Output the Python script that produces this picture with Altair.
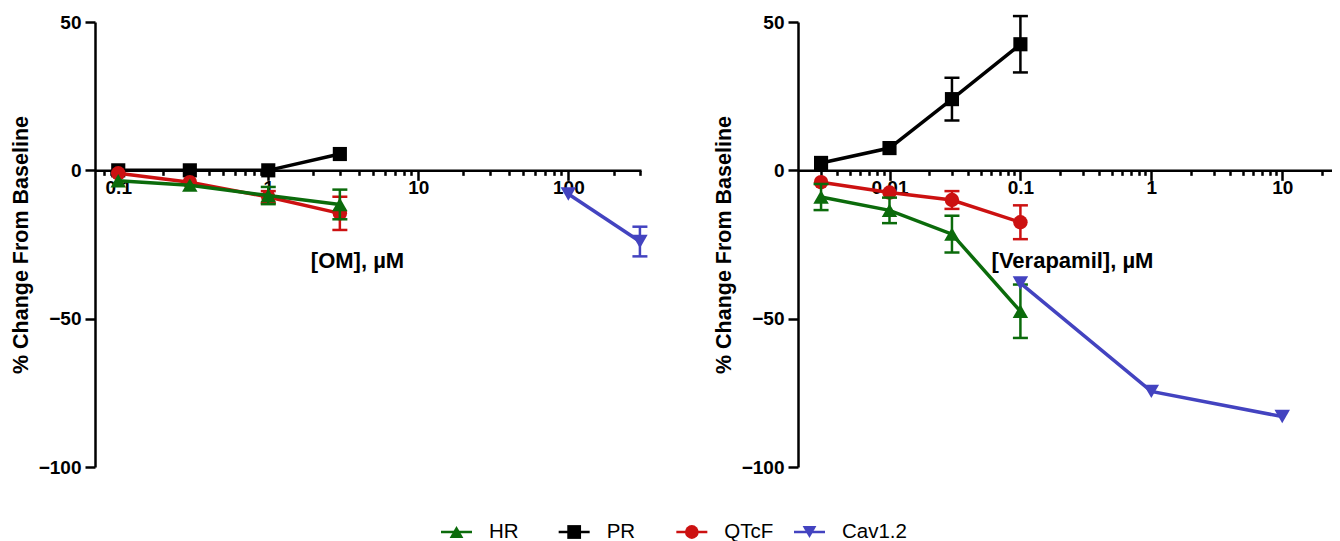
import altair as alt
import pandas as pd

FONT = "Liberation Sans"

series_names = ["HR", "PR", "QTcF", "Cav1.2"]
series_colors = ["#0b6b0b", "#000000", "#cc1111", "#4343c0"]
series_shapes = ["triangle-up", "square", "circle", "triangle-down"]
series_sizes = [240, 200, 210, 240]
draw_order = ["PR", "QTcF", "HR", "Cav1.2"]

# ---- OM panel ----
om_conc = [0.1, 0.3, 1, 3]
om_hr = [-3.5, -5, -8.5, -11.5]
om_hr_err = [0, 0, 2.9, 5]
om_pr = [0, 0, 0, 5.5]
om_pr_err = [0, 0, 0, 0]
om_qtcf = [-1, -4, -9, -14.5]
om_qtcf_err = [0, 0, 2, 5.6]
om_cav_conc = [100, 300]
om_cav = [-8, -24]
om_cav_err = [0, 5]

# ---- Verapamil panel ----
ver_conc = [0.003, 0.01, 0.03, 0.1]
ver_hr = [-9, -13.5, -21.5, -47.5]
ver_hr_err = [4.4, 4.3, 6.2, 9]
ver_pr = [2.5, 7.5, 24, 42.5]
ver_pr_err = [0, 0, 7.2, 9.5]
ver_qtcf = [-4, -7.5, -10, -17.5]
ver_qtcf_err = [0, 0, 3, 5.7]
ver_cav_conc = [0.1, 1, 10]
ver_cav = [-38, -74.5, -83]
ver_cav_err = [0, 0, 0]

y_ticks = [-100, -50, 0, 50]
om_major = [0.1, 1, 10, 100]
ver_major = [0.01, 0.1, 1, 10]
om_domain = [0.07, 305]
ver_domain = [0.002, 24]


def minor_ticks(lo, hi):
    out = []
    for e in range(-4, 4):
        for m in range(2, 10):
            v = round(m * 10 ** e, 8)
            if lo * 1.02 < v < hi * 1.001:
                out.append(v)
    return out


def make_df(rows):
    recs = []
    for name, conc, vals, errs in rows:
        for c, v, e in zip(conc, vals, errs):
            recs.append({"series": name, "conc": c, "val": v,
                         "lo": v - e, "hi": v + e, "err": e})
    return pd.DataFrame(recs)


om_df = make_df([
    ("HR", om_conc, om_hr, om_hr_err),
    ("PR", om_conc, om_pr, om_pr_err),
    ("QTcF", om_conc, om_qtcf, om_qtcf_err),
    ("Cav1.2", om_cav_conc, om_cav, om_cav_err),
])
ver_df = make_df([
    ("HR", ver_conc, ver_hr, ver_hr_err),
    ("PR", ver_conc, ver_pr, ver_pr_err),
    ("QTcF", ver_conc, ver_qtcf, ver_qtcf_err),
    ("Cav1.2", ver_cav_conc, ver_cav, ver_cav_err),
])

H = 445
AX_OFF = -H * 100.0 / 150.0

color_scale = alt.Scale(domain=series_names, range=series_colors)
y_scale = alt.Scale(domain=[-100, 50], nice=False, zero=False)

y_axis = alt.Axis(values=y_ticks, format="d", tickSize=10, tickWidth=2.5,
                  domainWidth=2.5, domainColor="black", tickColor="black",
                  labelFont=FONT, labelFontSize=19, labelFontWeight="bold",
                  labelColor="black", labelPadding=4,
                  title="% Change From Baseline", titleFont=FONT,
                  titleFontSize=21.5, titleFontWeight="bold", titleColor="black",
                  titlePadding=6, grid=False)


def panel(df, domain, major, xtitle, width, title_x):
    x_scale = alt.Scale(type="log", domain=domain, nice=False)
    x_axis = alt.Axis(values=major, orient="bottom", offset=AX_OFF, format="~g",
                      tickSize=10, tickWidth=2.5, domainWidth=2.5,
                      domainColor="black", tickColor="black", labelFont=FONT,
                      labelFontSize=19, labelFontWeight="bold", labelColor="black",
                      labelPadding=-2, labelFlush=False, labelOverlap=False,
                      title=xtitle, titleFont=FONT, titleFontSize=22,
                      titleFontWeight="bold", titleColor="black", titlePadding=53,
                      titleX=title_x, grid=False)
    minor_axis = alt.Axis(values=minor_ticks(*domain), orient="bottom",
                          offset=AX_OFF, labels=False, domain=False,
                          tickSize=5, tickWidth=2.5, tickColor="black",
                          title=None, grid=False)
    X = alt.X("conc:Q", scale=x_scale, axis=x_axis)
    Y = alt.Y("val:Q", scale=y_scale, axis=y_axis)
    C = alt.Color("series:N", scale=color_scale, legend=None)

    layers = []
    for s in draw_order:
        i = series_names.index(s)
        base = alt.Chart(df).transform_filter(alt.datum.series == s)
        layers.append(base.mark_line(strokeWidth=3.5).encode(x=X, y=Y, color=C))
        eb = base.transform_filter(alt.datum.err > 0)
        layers.append(eb.mark_rule(strokeWidth=2.5).encode(
            x=X, y=alt.Y("lo:Q", scale=y_scale, axis=y_axis), y2="hi:Q", color=C))
        for fld in ["lo", "hi"]:
            layers.append(eb.mark_tick(orient="horizontal", size=15, thickness=2.5,
                                       opacity=1).encode(
                x=X, y=alt.Y(f"{fld}:Q", scale=y_scale, axis=y_axis), color=C))
        layers.append(base.mark_point(filled=True, size=series_sizes[i],
                                      shape=series_shapes[i], opacity=1)
                      .encode(x=X, y=Y, color=C))
    data_layer = alt.layer(*layers)

    guide = alt.Chart(df).mark_point(opacity=0).encode(
        x=alt.X("conc:Q", scale=x_scale, axis=minor_axis),
        y=alt.Y("val:Q", scale=y_scale, axis=y_axis))

    return (alt.layer(guide, data_layer)
            .resolve_axis(x="independent")
            .properties(width=width, height=H))


left = panel(om_df, om_domain, om_major, "[OM], µM", 546, 262)
right = panel(ver_df, ver_domain, ver_major, "[Verapamil], µM", 534, 274)

# ---- legend (drawn from the series list through a point scale) ----
legend_df = pd.DataFrame({"series": series_names})
LX = alt.X("series:N", axis=None,
           scale=alt.Scale(type="point", domain=series_names,
                           range=[361.5, 714.5], padding=0))
LY = alt.value(10)
LC = alt.Color("series:N", scale=color_scale, legend=None)
leg_line = alt.Chart(legend_df).mark_tick(orient="horizontal", size=31,
                                          thickness=2.5, opacity=1).encode(
    x=LX, y=LY, color=LC)
leg_pts = alt.Chart(legend_df).mark_point(filled=True, opacity=1, size=190).encode(
    x=LX, y=LY, color=LC,
    shape=alt.Shape("series:N", scale=alt.Scale(domain=series_names,
                                                range=series_shapes), legend=None))
leg_txt = alt.Chart(legend_df).mark_text(align="left", baseline="middle", dx=32.5,
                                         font=FONT, fontSize=20.5,
                                         color="black").encode(
    x=LX, y=LY, text="series:N")
legend_chart = alt.layer(leg_line, leg_pts, leg_txt).properties(width=1000, height=20)

top = alt.hconcat(left, right, spacing=65)
chart = (alt.vconcat(top, legend_chart, spacing=45)
         .configure(padding={"left": 2, "top": 5, "right": 0, "bottom": 0},
                    background="white")
         .configure_view(strokeWidth=0))

chart.save("out.html", embed_options={"renderer": "svg", "actions": False})
